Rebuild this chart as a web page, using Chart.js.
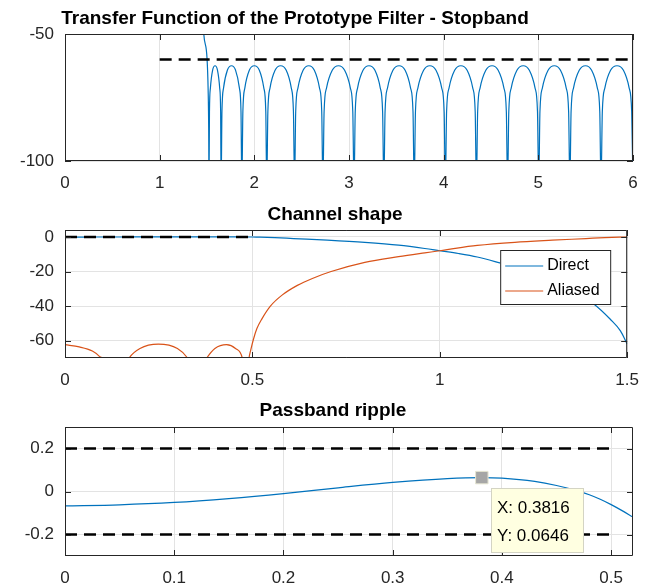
<!DOCTYPE html>
<html>
<head>
<meta charset="utf-8">
<title>Prototype filter</title>
<script src="https://cdn.jsdelivr.net/npm/chart.js@4.4.1/dist/chart.umd.min.js"></script>
<style>
  html, body { margin: 0; padding: 0; background: #fff; }
  #fig { position: relative; width: 651px; height: 587px; overflow: hidden; }
  #fig canvas { position: absolute; left: 0; }
</style>
</head>
<body>
<div id="fig">
  <canvas id="stopband" width="651" height="196" style="top:0"></canvas>
  <canvas id="channel" width="651" height="196" style="top:196px"></canvas>
  <canvas id="passband" width="651" height="195" style="top:392px"></canvas>
</div>
<script>
'use strict';

// Global look.
const FONT = '"Liberation Sans", Arial, Helvetica, sans-serif';
const BLUE = '#0072bd';
const ORANGE = '#d95319';
const AXIS = '#262626';
const GRID = '#e3e3e3';

// Top panel: stopband of the prototype filter (dB), read lobe by lobe.
const stopX = [
  1.455, 1.466, 1.501, 1.512, 1.518, 1.521,
  1.526, 1.536, 1.559, 1.585, 1.611, 1.634, 1.644, 1.649,
  1.658, 1.675, 1.715, 1.759, 1.802, 1.842, 1.859, 1.868,
  1.879, 1.900, 1.947, 2.000, 2.053, 2.100, 2.121, 2.131,
  2.143, 2.166, 2.219, 2.278, 2.337, 2.390, 2.413, 2.425,
  2.437, 2.461, 2.515, 2.575, 2.634, 2.688, 2.712, 2.724,
  2.737, 2.763, 2.823, 2.889, 2.954, 3.014, 3.040, 3.053,
  3.066, 3.091, 3.148, 3.211, 3.274, 3.330, 3.355, 3.368,
  3.381, 3.407, 3.464, 3.529, 3.593, 3.650, 3.676, 3.689,
  3.702, 3.728, 3.788, 3.854, 3.919, 3.979, 4.005, 4.018,
  4.031, 4.057, 4.116, 4.182, 4.248, 4.307, 4.333, 4.346,
  4.359, 4.385, 4.445, 4.511, 4.576, 4.636, 4.662, 4.675,
  4.688, 4.714, 4.774, 4.840, 4.905, 4.965, 4.991, 5.004,
  5.017, 5.043, 5.103, 5.169, 5.234, 5.294, 5.320, 5.333,
  5.346, 5.372, 5.432, 5.498, 5.563, 5.623, 5.649, 5.662,
  5.676, 5.703, 5.763, 5.831, 5.899, 5.959, 5.986, 6.000
];
const stopY = [
  -42, -50, -60, -72, -88, -110,
  -80.5, -71.2, -64.3, -62.5, -64.3, -71.2, -80.5, -110,
  -80.5, -71.2, -64.3, -62.5, -64.3, -71.2, -80.5, -110,
  -80.5, -71.2, -64.3, -62.5, -64.3, -71.2, -80.5, -110,
  -80.5, -71.2, -64.3, -62.5, -64.3, -71.2, -80.5, -110,
  -80.5, -71.2, -64.3, -62.5, -64.3, -71.2, -80.5, -110,
  -80.5, -71.2, -64.3, -62.5, -64.3, -71.2, -80.5, -110,
  -80.5, -71.2, -64.3, -62.5, -64.3, -71.2, -80.5, -110,
  -80.5, -71.2, -64.3, -62.5, -64.3, -71.2, -80.5, -110,
  -80.5, -71.2, -64.3, -62.5, -64.3, -71.2, -80.5, -110,
  -80.5, -71.2, -64.3, -62.5, -64.3, -71.2, -80.5, -110,
  -80.5, -71.2, -64.3, -62.5, -64.3, -71.2, -80.5, -110,
  -80.5, -71.2, -64.3, -62.5, -64.3, -71.2, -80.5, -110,
  -80.5, -71.2, -64.3, -62.5, -64.3, -71.2, -80.5, -110,
  -80.5, -71.2, -64.3, -62.5, -64.3, -71.2, -80.5, -110,
  -80.5, -71.2, -64.3, -62.5, -64.3, -71.2, -80.5, -110
];
const stopLimitX = [1, 6];
const stopLimitY = [-60, -60];
const stopXTicks = [0, 1, 2, 3, 4, 5, 6];
const stopYTicks = [-100, -50];

// Bottom panel: passband ripple (dB) and the data tip.
const passX = [0, 0.05, 0.10, 0.15, 0.20, 0.25, 0.30, 0.35, 0.3816, 0.40, 0.43, 0.45, 0.47, 0.48, 0.49, 0.50, 0.51, 0.52];
const passY = [-0.067, -0.062, -0.051, -0.033, -0.010, 0.017, 0.042, 0.060, 0.0646, 0.062, 0.047, 0.028, 0.002, -0.015, -0.036, -0.061, -0.089, -0.119];
const rippleLimitX = [0, 0.5];
const rippleUpperY = [0.2, 0.2];
const rippleLowerY = [-0.2, -0.2];
const tipX = [0.3816];
const tipY = [0.0646];
const passXTicks = [0, 0.1, 0.2, 0.3, 0.4, 0.5];
const passYTicks = [-0.2, 0, 0.2];

// Middle panel: channel shape. Direct = passband part + roll-off.
const rollX = [0.56, 0.61, 0.70, 0.80, 0.89, 0.96, 1.00, 1.05, 1.10, 1.16, 1.25, 1.33, 1.41, 1.455, 1.482, 1.50];
const rollY = [-0.4, -0.95, -1.9, -3.2, -4.8, -6.7, -8.0, -9.6, -11.6, -15.0, -20.5, -28.0, -38.6, -47.6, -54.3, -61.9];
const aliasX = [
  0, 0.038, 0.073, 0.091, 0.105, 0.135,
  0.160, 0.171, 0.200, 0.249, 0.300, 0.327, 0.342, 0.352,
  0.362, 0.378, 0.400, 0.431, 0.455, 0.473, 0.478, 0.482,
  0.487, 0.491, 0.496, 0.503, 0.512, 0.525, 0.548, 0.580, 0.620, 0.660, 0.710,
  0.800, 0.890, 0.960, 1.000, 1.041, 1.10, 1.20, 1.30, 1.39, 1.44, 1.48, 1.50
];
const aliasY = [
  -62.3, -63.6, -66.0, -68.9, -72.5, -110,
  -75, -70, -64.5, -62.0, -64.5, -70, -78, -110,
  -78, -70, -64.5, -62.3, -64.5, -70, -78, -110,
  -78, -70, -65.0, -59.0, -53.0, -47.5, -40.0, -33.5, -28.0, -24.0, -20.0,
  -14.7, -11.4, -9.2, -8.0, -6.6, -4.9, -3.1, -1.9, -0.95, -0.4, -0.12, -0.06
];
const channelLimitX = [0, 0.5];
const channelLimitY = [0, 0];
const channelXTicks = [0, 0.5, 1, 1.5];
const channelYTicks = [-60, -40, -20, 0];

function toPoints(xs, ys) {
  return xs.map((x, i) => ({ x: x, y: ys[i] }));
}

// Box round the plot area with MATLAB style inward tick marks.
const axesBox = {
  id: 'axesBox',
  afterDatasetsDraw(chart) {
    const ctx = chart.ctx;
    const a = chart.chartArea;
    const xs = chart.scales.x;
    const ys = chart.scales.y;
    const len = 6;
    ctx.save();
    ctx.strokeStyle = AXIS;
    ctx.lineWidth = 1;
    ctx.beginPath();
    ctx.rect(a.left + 0.5, a.top + 0.5, a.right - a.left - 1, a.bottom - a.top - 1);
    xs.ticks.forEach(t => {
      const px = Math.round(xs.getPixelForValue(t.value)) + 0.5;
      ctx.moveTo(px, a.bottom); ctx.lineTo(px, a.bottom - len);
      ctx.moveTo(px, a.top); ctx.lineTo(px, a.top + len);
    });
    ys.ticks.forEach(t => {
      const py = Math.round(ys.getPixelForValue(t.value)) + 0.5;
      ctx.moveTo(a.left, py); ctx.lineTo(a.left + len, py);
      ctx.moveTo(a.right, py); ctx.lineTo(a.right - len, py);
    });
    ctx.stroke();
    ctx.restore();
  }
};

// Panel title (the long top one sits left of centre, like the figure).
const figTitle = {
  id: 'figTitle',
  afterDraw(chart, args, opts) {
    const ctx = chart.ctx;
    ctx.save();
    ctx.font = 'bold 19px ' + FONT;
    ctx.fillStyle = '#000';
    ctx.textAlign = 'center';
    ctx.textBaseline = 'alphabetic';
    ctx.fillText(opts.text, opts.x, opts.y);
    ctx.restore();
  }
};

// Boxed legend in the upper right of the plot area.
const boxLegend = {
  id: 'boxLegend',
  afterDraw(chart, args, opts) {
    const ctx = chart.ctx;
    const a = chart.chartArea;
    const w = 111, h = 55;
    const left = a.right - 16 - w;
    const top = a.top + 20;
    ctx.save();
    ctx.fillStyle = '#fff';
    ctx.fillRect(left, top, w, h);
    ctx.strokeStyle = AXIS;
    ctx.lineWidth = 1;
    ctx.strokeRect(left + 0.5, top + 0.5, w - 1, h - 1);
    ctx.font = '16px ' + FONT;
    ctx.textBaseline = 'middle';
    ctx.textAlign = 'left';
    opts.items.forEach((name, i) => {
      const ds = chart.data.datasets.find(d => d.label === name);
      const y = top + 16 + i * 25;
      ctx.strokeStyle = ds.borderColor;
      ctx.lineWidth = 1.2;
      ctx.beginPath();
      ctx.moveTo(left + 5, y);
      ctx.lineTo(left + 43, y);
      ctx.stroke();
      ctx.fillStyle = '#000';
      ctx.fillText(name, left + 47, y);
    });
    ctx.restore();
  }
};

// Data tip box next to the marked point.
const dataTip = {
  id: 'dataTip',
  afterDraw(chart) {
    const ctx = chart.ctx;
    const mx = Math.round(chart.scales.x.getPixelForValue(tipX[0]));
    const my = Math.round(chart.scales.y.getPixelForValue(tipY[0]));
    const left = mx + 9, top = my + 10, w = 93, h = 65;
    ctx.save();
    ctx.fillStyle = '#ffffe1';
    ctx.fillRect(left, top, w, h);
    ctx.strokeStyle = '#d4d4c4';
    ctx.lineWidth = 1;
    ctx.strokeRect(left + 0.5, top + 0.5, w - 1, h - 1);
    ctx.font = '17px ' + FONT;
    ctx.fillStyle = '#000';
    ctx.textAlign = 'left';
    ctx.textBaseline = 'middle';
    ctx.fillText('X: ' + tipX[0], left + 6, top + 20);
    ctx.fillText('Y: ' + tipY[0], left + 6, top + 48);
    ctx.restore();
  }
};

function axisOptions(dir, min, max, ticks, size, pad) {
  return {
    type: 'linear',
    min: min,
    max: max,
    border: { display: false },
    grid: { color: GRID, lineWidth: 1, drawTicks: false },
    ticks: {
      color: AXIS,
      font: { family: FONT, size: 17 },
      padding: pad,
      autoSkip: false,
      maxRotation: 0,
      callback: v => String(v)
    },
    afterBuildTicks: s => { s.ticks = ticks.map(v => ({ value: v })); },
    afterFit: s => {
      if (dir === 'x') { s.height = size; } else { s.width = size; }
    }
  };
}

function dashed(xs, ys) {
  return {
    data: toPoints(xs, ys),
    borderColor: '#000',
    borderWidth: 2.5,
    borderDash: [12, 7],
    cubicInterpolationMode: 'default'
  };
}

function curve(label, xs, ys, color) {
  return {
    label: label,
    data: toPoints(xs, ys),
    borderColor: color,
    borderWidth: 1.2
  };
}

function buildChart(id, o) {
  const pluginOpts = { legend: { display: false }, tooltip: { enabled: false }, figTitle: o.title };
  if (o.legend) pluginOpts.boxLegend = { items: o.legend };
  return new Chart(document.getElementById(id), {
    type: 'line',
    data: { datasets: o.datasets },
    options: {
      responsive: false,
      animation: false,
      events: [],
      layout: { padding: { top: o.top, right: 18, bottom: 0, left: 0 } },
      elements: {
        point: { radius: 0 },
        line: { cubicInterpolationMode: 'monotone' }
      },
      scales: {
        x: axisOptions('x', o.xMin, o.xMax, o.xTicks, o.xHeight, 12),
        y: axisOptions('y', o.yMin, o.yMax, o.yTicks, 65, 11)
      },
      plugins: pluginOpts
    },
    plugins: o.plugins
  });
}

buildChart('stopband', {
  top: 34, xHeight: 35,
  xMin: 0, xMax: 6, xTicks: stopXTicks,
  yMin: -100, yMax: -50, yTicks: stopYTicks,
  title: { text: 'Transfer Function of the Prototype Filter - Stopband', x: 295, y: 24 },
  datasets: [
    dashed(stopLimitX, stopLimitY),
    curve(undefined, stopX, stopY, BLUE)
  ],
  plugins: [axesBox, figTitle]
});

buildChart('channel', {
  top: 34, xHeight: 34,
  xMin: 0, xMax: 1.5, xTicks: channelXTicks,
  yMin: -70, yMax: 4, yTicks: channelYTicks,
  title: { text: 'Channel shape', x: 335, y: 24 },
  legend: ['Direct', 'Aliased'],
  datasets: [
    dashed(channelLimitX, channelLimitY),
    curve('Aliased', aliasX, aliasY, ORANGE),
    curve('Direct', passX.concat(rollX), passY.concat(rollY), BLUE)
  ],
  plugins: [axesBox, figTitle, boxLegend]
});

buildChart('passband', {
  top: 35, xHeight: 31,
  xMin: 0, xMax: 0.52, xTicks: passXTicks,
  yMin: -0.3, yMax: 0.3, yTicks: passYTicks,
  title: { text: 'Passband ripple', x: 333, y: 24 },
  datasets: [
    {
      data: toPoints(tipX, tipY),
      showLine: false,
      pointStyle: 'rect',
      pointRadius: 8.8,
      backgroundColor: '#a6a6a6',
      borderColor: '#e6e6d2',
      borderWidth: 1
    },
    dashed(rippleLimitX, rippleUpperY),
    dashed(rippleLimitX, rippleLowerY),
    curve(undefined, passX, passY, BLUE)
  ],
  plugins: [axesBox, figTitle, dataTip]
});
</script>
</body>
</html>
